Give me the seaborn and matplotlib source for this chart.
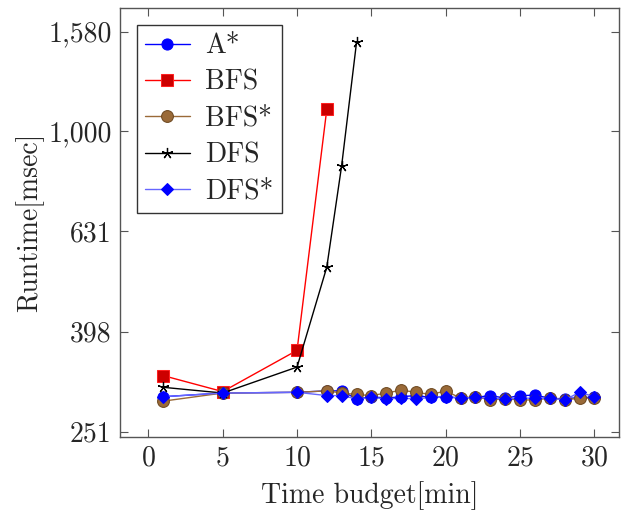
import matplotlib
matplotlib.use("Agg")
import matplotlib.pyplot as plt
import seaborn as sns

# =========================
# Data
# =========================

budget = [1, 5, 10, 12, 13, 14, 15, 16, 17, 18, 19, 20,
          21, 22, 23, 24, 25, 26, 27, 28, 29, 30]

astar = [295, 300, 301, 303, 303, 292, 295, 293, 295, 296.5, 294, 295,
         293, 294, 296.5, 293, 296.5, 297, 293, 292, 294, 294]

bfs_star = [289, 300, 301, 303, 300, 298, 296.5, 300, 304, 301, 298, 303,
            293, 295, 290.6, 292, 290.6, 290.6, 293, 290.6, 293, 293]

dfs_star = [295, 300, 301, 296.5, 296.5, 292, 294, 292, 293, 292, 294, 295,
            293, 294, 293, 292, 293, 293, 293, 290.6, 301, 295]

bfs_budget = [1, 5, 10, 12]
bfs = [325, 302, 365, 1105]

dfs_budget = [1, 5, 10, 12, 13, 14]
dfs = [308, 300, 338, 535, 853, 1503]

y_ticks = [251, 398, 631, 1000, 1580]
y_tick_labels = ["251", "398", "631", "1,000", "1,580"]
x_ticks = [0, 5, 10, 15, 20, 25, 30]

# =========================
# Style
# =========================

sns.set_style("ticks")
plt.rcParams['font.family'] = ['cmr10', 'DejaVu Serif']
plt.rcParams['mathtext.fontset'] = 'cm'
plt.rcParams['axes.formatter.use_mathtext'] = True

fig = plt.figure(figsize=(6.32, 5.19), dpi=100)
ax = fig.add_axes([0.19, 0.158, 0.7894, 0.8266])

FS = 20

# =========================
# Lines
# =========================

sns.lineplot(x=budget, y=astar, ax=ax, color='blue', marker='o',
             markersize=8, markerfacecolor='blue', markeredgecolor='blue',
             linewidth=1, label='A*', sort=False)

sns.lineplot(x=bfs_budget, y=bfs, ax=ax, color='red', marker='s',
             markersize=8, markerfacecolor='#cc0000', markeredgecolor='#ff2020',
             linewidth=1, label='BFS', sort=False)

sns.lineplot(x=budget, y=bfs_star, ax=ax, color='#9a6a38', marker='o',
             markersize=8.5, markerfacecolor='#9a6a38', markeredgecolor='#6e4a22',
             linewidth=1, label='BFS*', sort=False)

sns.lineplot(x=dfs_budget, y=dfs, ax=ax, color='black', marker=(5, 2, 0),
             markersize=8, markeredgecolor='black', markeredgewidth=0.9,
             linewidth=1, label='DFS', sort=False)

sns.lineplot(x=budget, y=dfs_star, ax=ax, color='#6666ff', marker='D',
             markersize=6.5, markerfacecolor='blue', markeredgecolor='blue',
             linewidth=1, label='DFS*', sort=False)

# =========================
# Axes
# =========================

ax.set_yscale('log')
ax.set_ylim(245.1, 1761)
ax.set_xlim(-1.9, 31.65)
ax.set_yticks(y_ticks)
ax.set_yticklabels(y_tick_labels)
ax.minorticks_off()
ax.set_xticks(x_ticks)

ax.tick_params(direction='in', length=6, width=0.8, labelsize=FS,
               top=True, right=True, color='#555555', pad=6)
for s in ax.spines.values():
    s.set_color('#555555')
    s.set_linewidth(1)

ax.set_xlabel("Time budget[min]", fontsize=FS, labelpad=7)
ax.set_ylabel("Runtime[msec]", fontsize=FS, labelpad=3)

leg = ax.legend(loc='upper left', fontsize=FS, frameon=True, fancybox=False,
                edgecolor='#333333', framealpha=1, borderpad=0.3,
                handlelength=1.6, labelspacing=0.36, handletextpad=0.55,
                borderaxespad=0.6)
leg.get_frame().set_linewidth(1)

plt.savefig("out.png", dpi=100)
